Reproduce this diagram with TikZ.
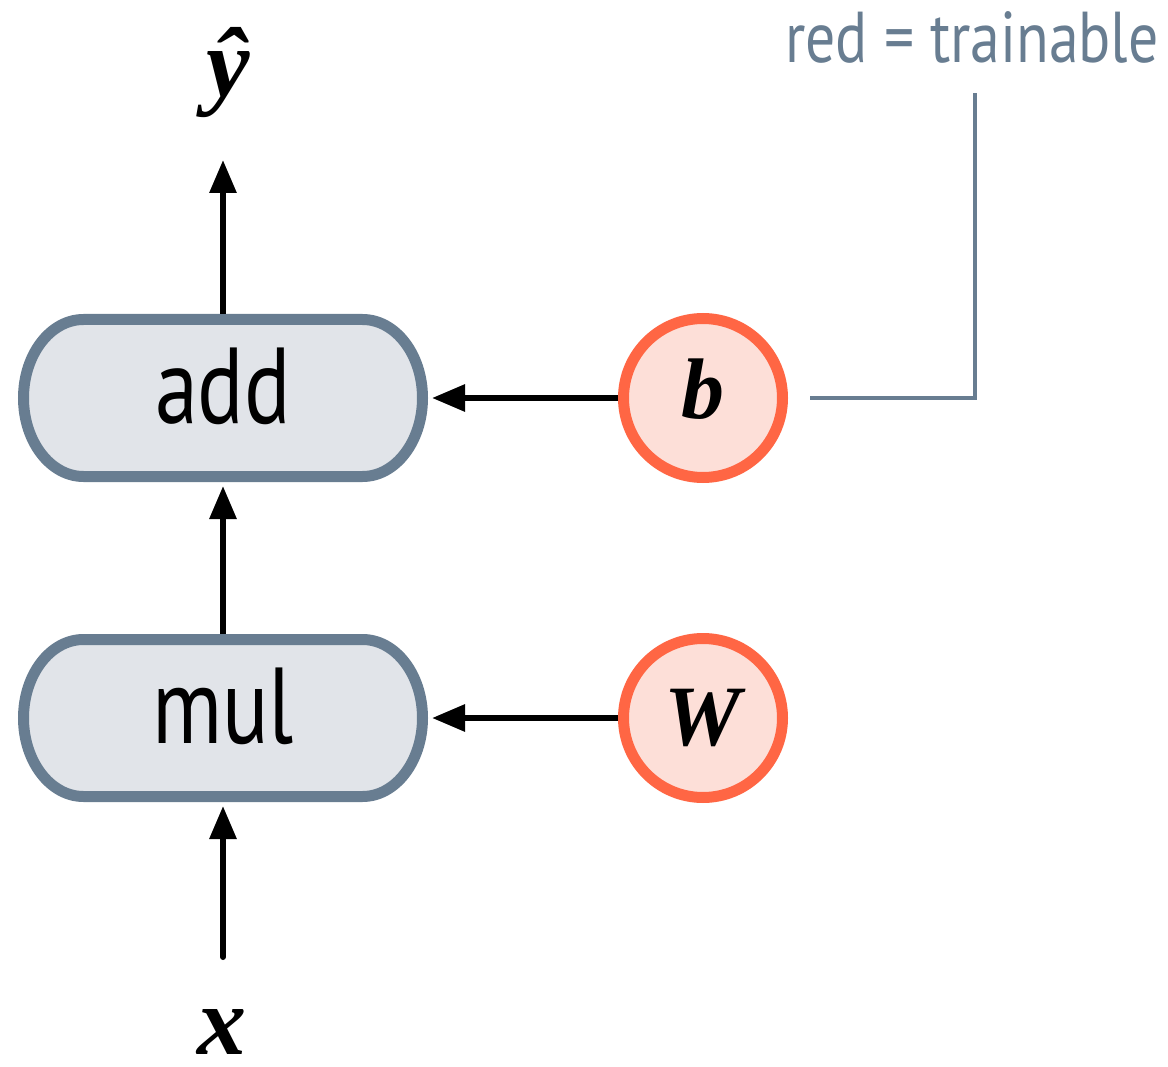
\documentclass[tikz,border=0pt]{standalone}
\usepackage{fontspec}
\usetikzlibrary{arrows.meta,backgrounds}
\newfontfamily\sansf{PT Sans}
\newfontfamily\serf{Liberation Serif}
\definecolor{slate}{HTML}{687D91}
\definecolor{boxfill}{HTML}{E1E4E9}
\definecolor{trainred}{HTML}{FF6644}
\definecolor{trainfill}{HTML}{FDDFD8}
\begin{document}
\begin{tikzpicture}[x=1pt,y=-1pt,
  opbox/.style={rectangle, draw=none, inner sep=0pt, outer sep=0pt,
    minimum width=399pt, minimum height=157pt,
    font=\sansf\fontsize{108}{108}\selectfont, text height=78pt, text depth=28pt},
  boxline/.style={draw=slate, fill=boxfill, line width=11pt},
  param/.style={circle, draw=trainred, fill=trainfill, line width=11pt,
    minimum size=159pt, inner sep=0pt,
    font=\serf\bfseries\itshape\fontsize{86}{86}\selectfont},
  mathlbl/.style={inner sep=0pt, font=\serf\bfseries\itshape\fontsize{98}{98}\selectfont},
  arr/.style={line width=6pt, -{Triangle[length=33pt,width=26pt]}},
  leader/.style={draw=slate, line width=4.5pt},
  legendtxt/.style={inner sep=0pt, text=slate, font=\sansf\fontsize{72}{72}\selectfont}
]
\useasboundingbox (0,0) rectangle (1168,1067);

\node[opbox] (add) at (223,398) {\scalebox{0.8}[1]{add}};
\node[opbox] (mul) at (223,718) {\scalebox{0.8}[1]{mul}};

\begin{scope}[on background layer]
  \foreach \n in {add,mul}{
    \draw[boxline] ([xshift=60pt]\n.north west) -- ([xshift=-60pt]\n.north east)
      arc[start angle=90, end angle=-90, x radius=60pt, y radius=78.5pt]
      -- ([xshift=60pt]\n.south west)
      arc[start angle=270, end angle=90, x radius=60pt, y radius=78.5pt] -- cycle;
  }
\end{scope}

\node[param, text depth=18pt] (b) at (703,398) {b};
\node[param] (W) at (703,718) {W};

\node[mathlbl, anchor=base] (yhat) at (228,97) {ŷ};
\node[mathlbl, anchor=base] (x) at (222,1054) {x};

\node[legendtxt, anchor=base] (legend) at (972,63) {\scalebox{0.83}[1]{red = trainable}};

\draw[arr, shorten <=5.5pt] (add.north) -- (add.north |- {(0,160)});
\draw[arr, shorten <=5.5pt, shorten >=9.5pt] (mul.north) -- (add.south);
\draw[arr, line cap=round, shorten >=9.5pt] (mul.south |- {(0,957)}) -- (mul.south);
\draw[arr, shorten >=9.5pt] (b.west) -- (add.east);
\draw[arr, shorten >=9.5pt] (W.west) -- (mul.east);

\coordinate (lstart) at (810,398);
\coordinate (lend) at (975,93);
\draw[leader] (lstart) -| (lend);
\end{tikzpicture}
\end{document}
